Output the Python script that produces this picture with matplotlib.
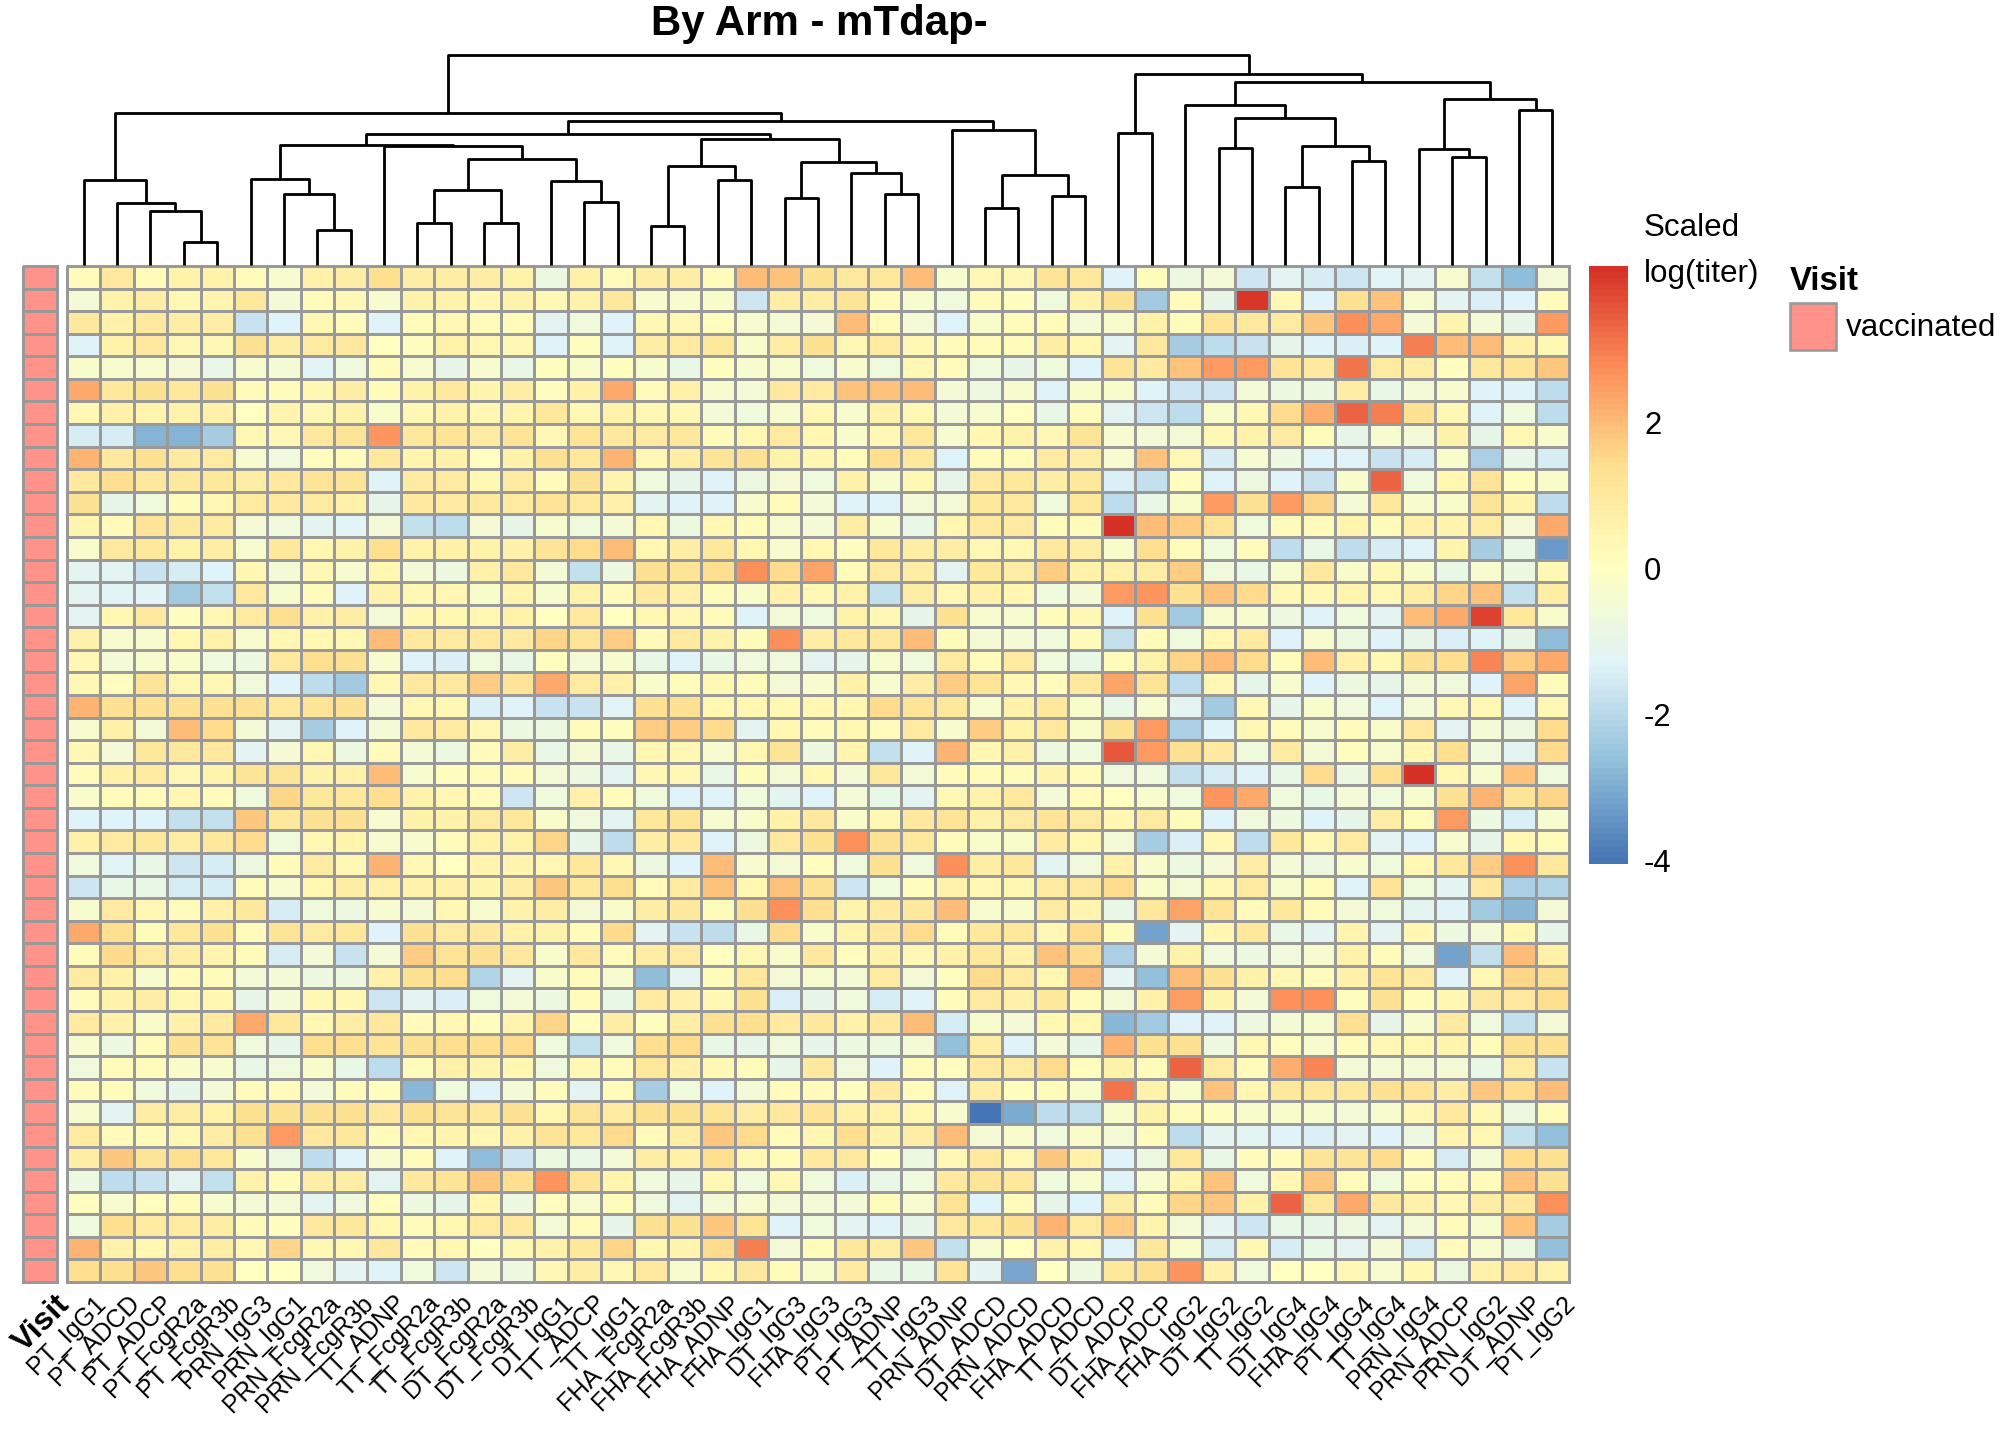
import matplotlib
matplotlib.use("Agg")
import matplotlib.pyplot as plt
import numpy as np
from matplotlib.colors import LinearSegmentedColormap, ListedColormap
from matplotlib.patches import Rectangle

plt.rcParams['font.family'] = ['Liberation Sans', 'DejaVu Sans']

# column order as it comes out of the clustering
features = ['PT_IgG1', 'PT_ADCD', 'PT_ADCP', 'PT_FcgR2a', 'PT_FcgR3b', 'PRN_IgG3',
            'PRN_IgG1', 'PRN_FcgR2a', 'PRN_FcgR3b', 'TT_ADNP', 'TT_FcgR2a', 'TT_FcgR3b',
            'DT_FcgR2a', 'DT_FcgR3b', 'DT_IgG1', 'TT_ADCP', 'TT_IgG1', 'FHA_FcgR2a',
            'FHA_FcgR3b', 'FHA_ADNP', 'FHA_IgG1', 'DT_IgG3', 'FHA_IgG3', 'PT_IgG3',
            'PT_ADNP', 'TT_IgG3', 'PRN_ADNP', 'DT_ADCD', 'PRN_ADCD', 'FHA_ADCD',
            'TT_ADCD', 'DT_ADCP', 'FHA_ADCP', 'FHA_IgG2', 'DT_IgG2', 'TT_IgG2',
            'DT_IgG4', 'FHA_IgG4', 'PT_IgG4', 'TT_IgG4', 'PRN_IgG4', 'PRN_ADCP',
            'PRN_IgG2', 'DT_ADNP', 'PT_IgG2']

visit = ['vaccinated'] * 45

# column dendrogram: (left, right, height), ids >= 45 are earlier merges
merges = [(3, 4, 1.13), (2, 45, 2.68), (1, 46, 3.07), (0, 47, 4.23),
          (7, 8, 1.73), (6, 49, 3.53), (5, 50, 4.30),
          (10, 11, 2.10), (12, 13, 2.10), (52, 53, 3.73), (15, 16, 3.13),
          (14, 55, 4.18), (54, 56, 5.25), (9, 57, 5.92), (51, 58, 5.98),
          (17, 18, 1.93), (19, 20, 4.23), (60, 61, 4.95), (21, 22, 3.35),
          (24, 25, 3.53), (23, 64, 4.58), (63, 65, 5.15), (62, 66, 6.25),
          (59, 67, 6.53), (27, 28, 2.82), (29, 30, 3.45), (69, 70, 4.48),
          (26, 71, 6.72), (68, 72, 7.18), (48, 73, 7.55),
          (31, 32, 6.58), (34, 35, 5.80), (36, 37, 3.90), (38, 39, 5.18),
          (77, 78, 5.90), (76, 79, 7.30), (33, 80, 7.95), (41, 42, 5.38),
          (40, 82, 5.77), (43, 44, 7.70), (83, 84, 8.25), (81, 85, 9.10),
          (75, 86, 9.52), (74, 87, 10.45)]

scaled_titer = [
    [0.2, 1.0, 0.2, 0.6, 0.6, 0.2, -0.35, 0.7, 0.8, 1.4, 0.8, 0.8, 0.8, 0.6, -0.75, 0.7, 0.2, 0.8, 0.8, 0.2, 1.95, 1.9, 1.3,
     1.0, 1.1, 2.0, -0.35, 0.3, 0.3, 1.2, 1.1, -1.3, 0.2, -0.75, -0.5, -1.6, -1.1, -1.5, -1.6, -1.25, -1.15, -0.35, -1.8, -2.7, -0.5],
    [-0.5, 0.6, 0.8, 0.3, 0.5, 1.1, -0.5, 0.2, 0.3, -0.35, 0.6, 0.6, 0.4, 0.6, 0.3, 0.6, 1.1, -0.35, -0.35, -0.2, -1.6, 0.8, 0.8,
     1.2, 0.2, -0.35, -0.65, 0.2, 0.1, -0.65, 0.6, 1.3, -2.4, 0.2, -1.0, 4.0, 0.3, -1.3, 1.3, 1.9, -0.35, -1.1, -1.4, -1.3, 0.2],
    [1.0, 0.6, 1.0, 0.8, 0.8, -1.7, -1.3, 0.3, 0.2, -1.3, 0.2, 0.3, 0.2, 0.2, -1.1, -0.65, -1.3, 0.3, 0.3, 0.1, -0.35, -0.5, -0.5,
     2.0, 0.2, -0.5, -1.3, -0.2, 0.2, 0.2, -0.5, -0.2, 0.6, 0.2, 1.2, 1.0, 0.9, 1.8, 2.75, 2.3, -0.5, 0.5, -0.5, -1.0, 2.55],
    [-1.3, 0.6, 1.0, 0.3, 0.3, 1.3, 0.8, 0.9, 1.0, 0.0, 0.1, 0.6, 0.4, 0.3, -1.3, 0.1, -1.3, 0.8, 0.9, 1.1, -0.2, 0.8, 1.3,
     0.3, 0.9, 0.3, 0.2, 0.2, 0.2, 0.8, 0.4, -1.1, 1.0, -2.3, -1.9, -1.7, -1.0, -1.3, -1.4, -1.3, 3.0, 1.95, 2.0, 0.7, 0.3],
    [-0.2, -0.35, -0.35, -0.5, -0.9, -0.35, -0.5, -1.2, -0.65, 0.2, -0.35, -1.0, -0.35, -0.9, 0.1, -0.2, 0.1, -0.35, -0.9, 0.1, -0.35, -0.35, -0.65,
     -0.35, -0.65, 0.3, 0.2, -0.65, -1.0, -0.65, -1.3, 1.2, 0.9, 1.9, 2.55, 2.55, 1.2, 0.9, 3.1, 0.9, 0.8, 0.1, 1.1, 1.2, 1.8],
    [2.3, 1.1, 1.3, 1.1, 1.3, 0.2, 0.2, 0.3, 0.8, 0.2, 0.6, 1.0, 0.5, 0.8, 0.1, 0.7, 2.3, 0.2, 0.7, -0.35, -0.5, 1.0, 0.9,
     1.9, 1.9, 2.0, -0.5, -0.75, -0.35, -1.3, -0.2, -0.2, -1.3, -1.6, -1.6, -0.5, -0.75, -0.75, 0.8, -0.9, -0.5, -0.35, -1.3, -1.3, -1.9],
    [0.3, 0.7, 0.5, 0.6, 0.7, 0.0, 0.5, 0.3, 0.6, -0.2, 0.3, 0.6, 0.4, 0.5, 1.1, 0.3, 0.6, 0.3, 0.3, -0.5, -0.65, -0.35, 0.3,
     -0.35, 0.6, 0.3, -0.5, -0.35, 0.0, -0.9, 0.2, -1.15, -1.6, -1.9, -0.2, 0.3, 1.5, 2.2, 3.35, 3.0, 1.3, 0.3, -1.3, -0.65, -1.9],
    [-1.5, -1.5, -2.9, -2.9, -2.3, 0.3, 0.3, 1.0, 1.2, 2.6, 1.1, 1.2, 0.9, 1.2, 0.3, 1.2, 1.0, 0.9, 1.1, 0.2, 0.3, 0.9, 0.4,
     -0.2, 0.3, 1.1, -0.35, 0.4, 0.6, 0.3, 1.2, -0.35, -0.5, -0.5, 0.3, 0.6, 0.9, 0.2, -1.0, -0.35, -0.5, 0.6, -1.0, 0.3, -0.2],
    [2.1, 1.0, 1.3, 0.9, 0.9, -0.35, -0.65, 0.1, 0.2, 1.0, 0.5, 0.6, 0.0, 0.6, 1.3, 1.1, 2.1, 0.3, 0.8, 1.2, 1.3, 0.6, 0.4,
     0.2, 1.4, 1.1, -1.3, 0.2, 0.2, 0.9, 0.8, -0.35, 1.9, 0.3, -1.5, -0.35, -0.75, -1.3, -1.3, -1.7, -1.5, -0.2, -2.2, -1.0, -1.5],
    [1.0, 1.4, 1.1, 1.0, 1.1, 0.8, 1.0, 1.2, 1.2, -1.3, 0.9, 0.9, 0.3, 0.9, 0.2, 1.3, 0.5, -0.65, -1.0, -1.3, -0.75, -0.5, -0.65,
     0.7, -0.35, 0.3, -1.0, 1.0, 1.1, 0.8, 1.1, -1.4, -1.8, 0.1, -1.3, -0.75, -1.3, -1.7, -0.2, 3.35, -0.65, 0.4, 1.2, 0.1, -0.2],
    [1.3, -1.0, -0.65, 0.2, 0.3, 0.9, 1.0, 0.9, 0.7, -1.0, 1.0, 0.9, 1.0, 0.9, 1.2, 1.0, 0.7, -1.1, -1.3, -1.3, -0.35, 0.2, -0.5,
     -1.3, -1.3, -0.5, -0.5, 1.1, 1.0, -0.65, 1.1, -1.9, -0.9, -0.2, 2.55, 1.3, 2.55, 1.6, -0.5, 1.1, -0.35, -0.2, 1.2, 0.5, -1.9],
    [0.5, 0.2, 1.2, 1.0, 0.9, -0.5, -0.65, -1.15, -1.25, -0.5, -1.8, -1.9, -0.5, -1.0, -0.35, -0.65, -0.5, 0.4, -0.75, 0.4, 0.2, -0.35, -0.5,
     0.8, -0.35, -0.9, 0.4, 1.0, 0.9, 0.2, 0.2, 4.15, 1.95, 1.7, 1.2, -0.65, 0.2, 0.2, 0.5, 0.2, 0.7, 0.5, 0.9, -0.5, 2.3],
    [-0.2, 1.0, 1.1, 0.6, 0.8, -0.35, 1.1, 0.4, 0.6, 1.4, 0.6, 0.7, 0.6, 0.7, 1.2, 1.5, 2.0, 0.4, 0.8, 1.1, 0.4, -0.35, 0.4,
     0.1, 1.1, 0.8, 0.8, 0.3, 0.3, 1.0, 0.8, -0.2, 1.4, 0.2, -0.65, 0.2, -1.9, -0.9, -1.9, -1.5, -1.3, 0.5, -2.3, -0.9, -3.35],
    [-1.15, -1.1, -1.7, -1.5, -1.3, 0.4, -0.5, 0.3, -0.35, 0.4, -0.5, -0.75, 0.7, 1.0, -0.5, -1.8, -0.75, 1.3, 1.2, 1.4, 2.75, 1.5, 2.4,
     0.2, 0.9, 0.8, -1.15, 1.1, 0.8, 1.7, 0.6, 0.7, 0.8, 1.7, -0.65, -0.9, -0.35, 1.0, -0.2, 0.3, -0.2, -0.9, -0.35, -0.75, 0.3],
    [-1.15, -1.2, -1.2, -2.4, -1.8, 1.0, -0.35, 0.2, -1.3, 0.6, 0.3, 0.4, -0.2, 0.5, -0.35, 0.6, 0.2, 0.9, 0.7, 0.2, -0.2, 0.7, 0.3,
     0.6, -1.8, 0.8, 0.3, 0.7, 0.4, -0.65, -0.5, 2.55, 2.6, 1.3, 1.9, 1.5, 0.3, 0.3, 0.5, 0.3, 0.8, 1.6, 1.9, -1.8, 0.8],
    [-1.1, 0.4, 1.0, 0.1, 0.3, 0.9, 1.4, 0.7, 0.8, -0.5, 0.3, 0.4, 0.4, 0.6, 0.0, 1.0, 0.0, 0.4, 0.3, 0.2, -1.3, -0.5, -0.65,
     0.6, 0.3, -1.0, 1.3, -0.35, -0.35, 0.2, 0.3, -1.3, 1.3, -2.4, -0.35, -0.35, -0.75, -1.3, -0.65, -1.1, 1.95, 2.3, 3.9, 1.1, -0.2],
    [0.7, -0.35, -0.35, 0.4, 0.6, -0.35, 0.3, 0.4, 0.3, 2.0, 1.0, 0.9, 1.0, 0.9, 1.6, 1.2, 1.7, 0.2, 0.9, 0.6, 0.2, 2.75, 0.8,
     1.1, 1.1, 2.0, 0.2, -0.5, -0.5, -0.65, 0.2, -1.8, 0.2, -0.65, 0.4, 0.9, -1.3, -0.35, -0.75, -1.3, -1.0, -1.4, -1.3, -1.0, -2.7],
    [0.3, -0.5, -0.35, -0.2, -0.65, -0.75, 1.0, 1.4, 1.3, -0.35, -1.3, -1.4, -0.65, -0.9, 0.1, -0.5, -0.35, -0.9, -1.3, -0.9, -0.65, -0.65, -1.1,
     -1.0, -0.35, -0.65, 0.9, 0.2, 0.9, -0.65, -0.9, 0.2, 0.6, 1.6, 1.95, 1.5, 0.2, 2.0, 0.7, 0.3, 1.3, 1.4, 2.9, 1.7, 2.3],
    [0.3, 0.1, 1.2, 0.3, 0.3, -0.65, -1.3, -1.9, -2.4, 0.3, 1.0, 1.0, 1.7, 1.2, 2.3, 0.9, 0.7, -0.2, 0.2, 0.3, 0.2, -0.5, -0.35,
     0.7, -0.35, 0.8, 1.7, 1.2, 0.3, 0.2, 1.0, 2.4, 1.2, -1.9, 0.3, -1.0, -0.35, -1.3, -0.75, -1.0, -0.5, -0.65, -1.3, 2.4, 0.2],
    [2.1, 1.3, 1.3, 1.3, 1.3, 1.3, 1.1, 1.2, 1.3, -0.5, 0.3, 0.3, -1.4, -1.3, -1.7, -1.7, -1.25, 1.3, 1.3, 0.4, 0.4, 0.3, 0.4,
     0.4, 1.5, 1.2, 1.1, -0.35, 0.6, 1.1, -0.2, -0.9, -0.35, -1.1, -2.4, 0.3, -1.0, -0.2, -0.65, -1.3, -0.5, 0.3, 0.3, -1.3, 0.3],
    [-0.35, 0.7, -0.5, 1.95, 1.5, -0.5, -1.1, -2.3, -1.3, -0.5, 1.0, 0.9, 0.3, -0.75, -0.75, 0.2, 0.1, 1.7, 1.7, 1.5, -1.1, 0.4, 0.2,
     0.4, 0.2, 0.9, -0.35, 1.7, 0.6, 1.0, -0.2, 1.3, 2.55, -2.2, -1.3, 0.3, 0.2, -0.35, 0.2, -0.2, 1.0, -1.1, -0.5, -0.75, 1.5],
    [0.3, -0.5, 1.1, 1.0, 1.0, -1.1, -0.5, 0.3, -0.75, 0.2, -0.5, -0.75, 0.2, 0.8, -0.9, -0.5, -0.9, 0.4, 0.3, -0.35, 0.4, 1.2, -0.75,
     0.5, -1.8, -1.3, 2.1, 0.4, 0.7, -0.75, -0.65, 3.5, 2.55, 1.3, 0.9, -0.65, 0.9, -0.5, 0.1, -0.35, 0.4, 1.4, -0.65, -1.1, 1.5],
    [0.2, 0.7, 0.9, 0.3, 0.5, 1.2, 1.2, 0.6, 0.7, 2.0, -0.35, 0.1, 0.2, 0.2, -0.5, -0.75, -1.1, 0.3, 0.3, -0.9, 0.2, -0.5, 0.4,
     -0.5, 1.1, -0.5, 0.2, 0.2, 0.2, 0.5, 0.2, -0.65, -0.65, -1.8, -1.5, -1.3, -0.9, 1.5, -0.75, 1.4, 4.1, 0.4, -0.35, 1.9, -0.65],
    [-0.2, 0.2, 0.2, 0.4, 0.2, -0.65, 1.6, 1.1, 1.1, 1.4, 0.6, 0.4, 0.2, -1.6, -0.65, 0.7, 0.2, -0.65, -1.3, -1.3, -0.65, -1.1, -1.3,
     -0.5, -0.9, -1.1, 0.3, 0.6, 1.0, -0.5, 0.2, 0.0, -0.2, -0.65, 2.6, 2.3, -0.65, -0.9, -0.5, -0.65, -0.35, 1.3, 2.1, 1.2, 1.6],
    [-1.3, -1.3, -1.3, -1.8, -1.8, 1.8, 1.1, 1.3, 1.3, -0.35, 0.6, 0.6, 0.9, 1.1, -0.2, -0.65, -1.1, 1.1, 1.2, -0.35, -0.2, 0.6, 1.0,
     -0.2, 0.3, 1.0, 1.2, 0.7, 0.9, 1.2, 0.9, 0.4, 0.9, 0.2, -1.3, -0.65, -0.75, -1.3, -1.0, 0.8, 0.2, 2.55, -0.75, -1.4, -0.35],
    [0.7, 0.9, 1.1, 0.8, 1.1, 1.5, -0.65, 0.3, 0.5, -0.35, -0.35, 0.2, 0.6, 0.6, 1.6, -1.0, -1.9, 0.8, 1.0, -1.3, -0.75, 1.0, 1.3,
     2.75, 1.3, 1.1, 0.2, -0.2, -0.2, 0.9, 0.4, -0.5, -2.3, -1.4, 0.3, -1.9, 1.1, 0.3, 0.9, -1.1, -1.3, -0.35, -1.0, 0.3, 0.2],
    [-0.65, -1.2, -0.9, -1.6, -1.5, -0.75, 0.2, 0.9, 0.3, 2.1, 0.3, 0.0, 0.5, 0.5, 0.4, 1.1, 0.3, -0.75, -1.3, 2.0, -0.35, -0.5, 0.1,
     -0.65, 1.3, -0.65, 2.75, 0.8, 1.1, -1.1, -0.65, 0.7, -0.2, -0.75, -0.5, 0.8, -0.5, -0.75, -0.35, -0.65, 0.3, 1.1, 1.7, 2.75, 1.0],
    [-1.6, -0.9, -0.9, -1.5, -1.5, 0.2, -0.35, 0.4, 0.8, 0.7, 0.6, 0.7, 0.5, 0.8, 1.8, 1.1, 1.4, 0.2, 0.9, 1.9, 0.4, 1.9, 1.3,
     -1.6, -0.65, 0.1, 0.6, 0.3, 0.4, 0.9, 1.0, 1.5, -0.2, -0.5, 0.3, 0.9, -0.35, 0.2, -1.3, 1.2, -0.65, -1.1, 1.0, -2.2, -2.1],
    [-0.35, 0.9, 0.3, 0.2, 0.7, 1.0, -1.5, -0.65, -0.75, -0.35, -0.5, 0.3, -0.35, 0.6, 0.8, -0.5, -0.2, 0.8, 1.1, 0.2, 1.4, 2.75, 1.4,
     0.5, 0.9, 1.0, 2.0, -0.35, -0.2, 0.9, 0.5, -0.9, 1.1, 2.4, 1.2, 0.2, 1.1, 0.2, -0.5, -0.65, -1.1, -1.3, -2.4, -2.8, -0.5],
    [2.3, 1.4, 0.2, 1.1, 1.3, 0.2, 1.2, 0.9, 1.1, -1.3, 1.3, 0.9, 1.0, 0.7, 0.6, 0.2, 1.5, -1.1, -1.7, -1.9, -0.9, 1.5, -0.2,
     0.5, 1.0, 1.5, 0.2, 1.1, 1.1, 0.3, 1.5, 0.2, -3.2, -1.1, 0.4, 1.1, -0.9, -1.1, 0.5, -1.1, 0.4, -0.75, -0.5, 0.4, -1.0],
    [0.2, 1.5, 0.9, 0.8, 0.5, 0.2, -1.5, -0.5, -1.7, -0.5, 1.7, 1.2, 1.3, 1.0, -0.2, 1.0, 0.2, 0.8, 0.9, 0.0, 0.3, -0.2, 1.0,
     0.1, 0.6, 0.3, 0.6, 1.1, 0.7, 1.9, 1.5, -2.2, -0.5, 0.6, -0.65, -0.75, -0.65, -0.35, 0.6, 0.2, -0.65, -3.2, -1.8, 1.95, 0.7],
    [0.9, 0.6, -0.35, 0.2, 0.2, -0.5, -0.5, -0.75, -0.75, 0.7, 1.3, 1.4, -2.1, -1.15, -0.2, 0.2, -0.35, -2.7, -1.1, 0.2, 1.1, -0.5, -0.35,
     -0.5, 0.9, -0.5, 0.1, 1.5, 0.9, 0.4, 2.0, -1.15, -2.6, 1.95, 1.3, 0.6, 0.3, 0.2, 0.7, 1.2, 0.9, -1.3, 0.3, 1.6, 1.3],
    [0.2, 0.6, 0.8, 0.4, 0.4, -1.0, -0.5, 0.3, 0.3, -1.6, -1.1, -1.4, -0.65, -0.5, -0.75, 0.2, -0.9, 0.9, 0.7, 0.3, 1.3, -1.4, -1.0,
     -0.65, -1.5, -1.3, 0.2, 0.9, 0.7, 1.1, 0.2, -0.5, 0.7, 2.5, 0.5, -0.5, 2.75, 2.75, 0.1, 1.3, 0.2, 0.4, 1.0, 1.0, 1.4],
    [0.9, 0.6, -0.2, 0.7, 0.9, 2.3, 1.1, 0.4, 0.8, 1.0, 0.2, 0.3, 0.1, 0.5, 1.6, 0.1, 0.8, 0.1, 0.8, 1.3, 1.4, 0.9, 1.0,
     0.6, 1.0, 1.95, -1.5, -0.35, -0.5, 0.4, 0.4, -2.8, -2.4, -1.3, -1.3, -0.75, -0.5, -0.35, 1.3, -1.0, -0.35, 0.9, -0.65, -1.8, -0.5],
    [-0.35, -0.75, 0.2, 1.3, 1.2, -0.65, -1.0, 1.4, 1.4, 1.2, 1.3, 1.4, 1.4, 1.5, -0.65, -1.8, -0.65, 1.4, 1.5, -0.9, -1.0, -0.65, -1.0,
     -0.75, -0.75, -0.5, -2.6, 0.8, -1.3, -0.5, -1.0, 2.1, 1.3, 1.3, -0.75, 0.3, 0.1, -0.35, 0.2, 0.3, 0.4, 0.5, 0.2, 1.3, 1.3],
    [-0.65, 0.2, 0.2, -0.2, -0.35, -0.9, -0.65, -0.2, -0.9, -1.9, 0.2, 0.7, 0.5, 0.4, -0.65, 0.3, 0.2, 1.1, 0.7, 0.3, 0.2, -1.0, 1.0,
     -0.65, -1.3, 0.2, 0.1, 1.0, 0.9, 1.5, 0.1, 0.6, 0.2, 3.35, 0.9, 0.2, 2.2, 2.9, -0.5, -0.5, -0.5, -0.5, -0.9, 0.9, -1.7],
    [0.2, 0.2, -0.65, -1.0, -0.5, 0.2, 0.2, -0.5, 0.2, 0.1, -2.8, -0.65, -1.3, -0.5, 0.2, -1.1, 0.2, -2.3, -0.65, -1.3, -0.5, 0.2, 0.2,
     0.1, 0.9, 0.2, -1.3, 0.8, 0.1, 0.2, -0.2, 3.1, 0.6, -0.2, 1.9, 0.4, 1.1, 1.1, 1.1, 1.3, 1.2, 0.8, 1.8, 1.5, 1.95],
    [-0.35, -1.1, 0.8, 0.8, 0.6, 1.3, 1.3, 1.3, 1.3, 1.0, 1.3, 1.2, 1.1, 1.3, 0.4, 1.2, 0.9, 1.3, 1.3, 1.2, 0.8, 1.0, 1.2,
     0.7, 0.6, 0.4, -0.35, -4.05, -3.0, -1.9, -1.8, -0.2, 0.6, 0.2, 0.1, -0.2, -0.2, -0.35, -0.5, -0.35, 0.3, 1.0, 0.3, -0.75, 0.2],
    [0.9, 0.2, 0.2, 0.3, 0.8, 1.3, 2.55, 1.0, 1.1, 0.2, 0.4, 0.5, 0.4, 0.7, 1.2, 1.1, 1.5, 0.2, 0.8, 1.8, 1.5, 0.2, 0.4,
     1.4, 0.6, 0.8, 2.0, -0.5, -0.2, -0.65, -0.2, -0.5, 0.2, -1.9, -1.1, -1.1, -1.3, -1.4, -1.1, -1.3, -0.75, 0.5, 0.4, -1.8, -2.6],
    [0.8, 1.8, 1.2, 1.4, 1.1, -0.2, -0.75, -1.9, -1.3, -0.35, 0.2, -1.3, -2.7, -1.6, -0.75, -0.9, -0.5, 0.8, 0.7, 1.4, 0.3, 0.2, 1.0,
     1.0, 0.1, -0.75, 0.3, 1.0, 0.3, 1.8, 0.7, -1.3, -0.75, 1.1, -0.9, 0.2, 0.2, 1.2, 1.2, 1.5, 0.2, -1.5, -0.5, 1.5, 1.3],
    [-0.75, -1.9, -1.7, -1.15, -1.8, 0.6, 0.2, 0.8, 0.8, -1.1, 1.0, 1.2, 1.8, 1.4, 2.6, 1.2, 0.5, -0.65, -1.0, 0.3, -0.65, 0.3, -0.65,
     -1.4, -0.9, -0.65, 1.0, 1.2, 1.1, -0.65, -0.35, -1.3, -0.35, 0.5, 1.9, -0.65, 0.4, 1.8, 0.2, -0.65, 0.1, 0.2, 0.2, 1.9, 1.3],
    [0.1, -0.35, 0.1, 0.2, -0.35, -0.5, -0.5, -1.1, -0.65, 0.1, -0.75, -1.0, 0.4, -0.75, 0.1, -0.35, 0.2, -0.65, -1.1, -0.5, -0.35, -0.5, -0.5,
     -0.5, 0.2, -0.35, 1.2, -1.3, 0.2, -1.0, -1.3, 0.8, 0.2, 1.6, 1.8, 0.6, 3.35, 1.1, 2.3, 1.0, 0.7, 0.3, 0.8, 1.0, 2.75],
    [-0.65, 1.4, 0.9, 0.9, 0.8, 0.2, 0.1, 1.0, 1.1, 0.4, 0.2, 0.4, 0.9, 1.0, -0.5, 0.2, -1.0, 1.3, 1.3, 1.8, 1.2, -1.3, -0.65,
     -1.1, -1.3, -1.0, 1.0, 1.1, 1.3, 2.1, 0.9, 1.7, 0.5, -0.5, -1.1, -1.6, -0.9, -1.0, -0.75, -1.1, -0.5, 0.2, -0.35, 1.9, -2.3],
    [2.1, 0.6, 0.4, 0.6, 0.8, 0.4, 1.6, 0.3, 0.4, 1.0, 0.2, 0.4, 0.0, 0.3, 0.6, 1.1, 1.6, 0.4, 0.5, 1.5, 3.0, -0.5, 0.2,
     1.1, 0.8, 1.8, -1.8, -0.35, 0.0, 0.6, 0.4, -1.3, 1.0, -0.2, -1.5, 0.3, -1.5, -0.9, -1.1, -0.5, -1.5, 0.2, -0.35, -0.75, -2.6],
    [1.4, 1.4, 1.8, 1.4, 1.3, 0.0, 0.0, -0.65, -1.1, -1.3, -0.65, -1.6, -0.5, -0.75, 0.3, 0.8, 0.3, 1.0, -0.35, 0.4, 1.0, 0.2, -0.2,
     0.9, -0.9, -0.9, 1.2, -1.15, -3.1, 0.0, -0.75, 1.1, 1.4, 2.6, 0.7, -0.65, 0.0, 0.0, 0.3, -0.35, 0.4, -0.75, 0.7, 1.0, 0.6],
]

data = np.array(scaled_titer)
n_rows, n_cols = data.shape
vmin, vmax = data.min(), data.max()

cmap = LinearSegmentedColormap.from_list(
    'rdylbu_r', ['#4575B4', '#91BFDB', '#E0F3F8', '#FFFFBF', '#FEE090', '#FC8D59', '#D73027'], N=100)
grid_col = '#999999'
visit_col = '#FF9289'

W, H = 2016, 1440


def box(x0, y0, x1, y1):
    # pixel box (top-left origin) -> figure fraction
    return [x0 / W, 1 - y1 / H, (x1 - x0) / W, (y1 - y0) / H]


fig = plt.figure(figsize=(14, 10), dpi=144)

# heatmap
ax = fig.add_axes(box(67, 266, 1569, 1282))
ax.pcolormesh(np.arange(n_cols + 1), np.arange(n_rows + 1), data, cmap=cmap,
              vmin=vmin, vmax=vmax, edgecolors=grid_col, linewidth=1.3, clip_on=False)
ax.set_xlim(0, n_cols)
ax.set_ylim(n_rows, 0)
ax.axis('off')
for i, lab in enumerate(features):
    ax.text(i + 0.8, n_rows + 0.4, lab, rotation=45, rotation_mode='anchor',
            ha='right', va='top', fontsize=12.5)

# annotation column
ax_a = fig.add_axes(box(23, 266, 57, 1282))
codes = np.array([[0] for _ in visit])
ax_a.pcolormesh([0, 1], np.arange(n_rows + 1), codes, cmap=ListedColormap([visit_col]),
                edgecolors=grid_col, linewidth=1.3, clip_on=False)
ax_a.set_xlim(0, 1)
ax_a.set_ylim(n_rows, 0)
ax_a.axis('off')
ax_a.text(0.95, n_rows + 0.35, 'Visit', rotation=45, rotation_mode='anchor',
          ha='right', va='top', fontsize=16, fontweight='bold')

# dendrogram
ax_d = fig.add_axes(box(67, 55, 1569, 265))
pos = {i: i + 0.5 for i in range(n_cols)}
hgt = {i: 0.0 for i in range(n_cols)}
for k, (a, b, h) in enumerate(merges):
    ax_d.plot([pos[a], pos[a], pos[b], pos[b]], [hgt[a], h, h, hgt[b]],
              color='black', lw=1.4, clip_on=False, solid_capstyle='butt')
    pos[n_cols + k] = (pos[a] + pos[b]) / 2
    hgt[n_cols + k] = h
ax_d.set_xlim(0, n_cols)
ax_d.set_ylim(0, max(m[2] for m in merges))
ax_d.axis('off')

# colour key
ax_c = fig.add_axes(box(1589, 266, 1628, 864))
edges = np.linspace(vmin, vmax, 101)
ax_c.pcolormesh([0, 1], edges, ((edges[:-1] + edges[1:]) / 2)[:, None],
                cmap=cmap, vmin=vmin, vmax=vmax)
ax_c.set_xlim(0, 1)
ax_c.set_ylim(vmin, vmax)
for s in ax_c.spines.values():
    s.set_visible(False)
ax_c.set_xticks([])
ax_c.yaxis.tick_right()
ax_c.set_yticks([-4, -2, 0, 2])
ax_c.set_yticklabels(['-4', '-2', '0', '2'], fontsize=15.5)
ax_c.tick_params(axis='y', length=0, pad=8)

fig.text(1644 / W, 1 - 228 / H, 'Scaled', ha='left', va='center', fontsize=15.7)
fig.text(1644 / W, 1 - 274 / H, 'log(titer)', ha='left', va='center', fontsize=15.7)

fig.text(1790 / W, 1 - 281 / H, 'Visit', ha='left', va='center', fontsize=16.5, fontweight='bold')
fig.add_artist(Rectangle((1790 / W, 1 - 350 / H), 46 / W, 47 / H, transform=fig.transFigure,
                         facecolor=visit_col, edgecolor=grid_col, linewidth=1.3))
fig.text(1846 / W, 1 - 328 / H, 'vaccinated', ha='left', va='center', fontsize=15.7)

fig.text(819 / W, 1 - 24 / H, 'By Arm - mTdap-', ha='center', va='center',
         fontsize=21, fontweight='bold')

fig.savefig('out.png', dpi=144)
